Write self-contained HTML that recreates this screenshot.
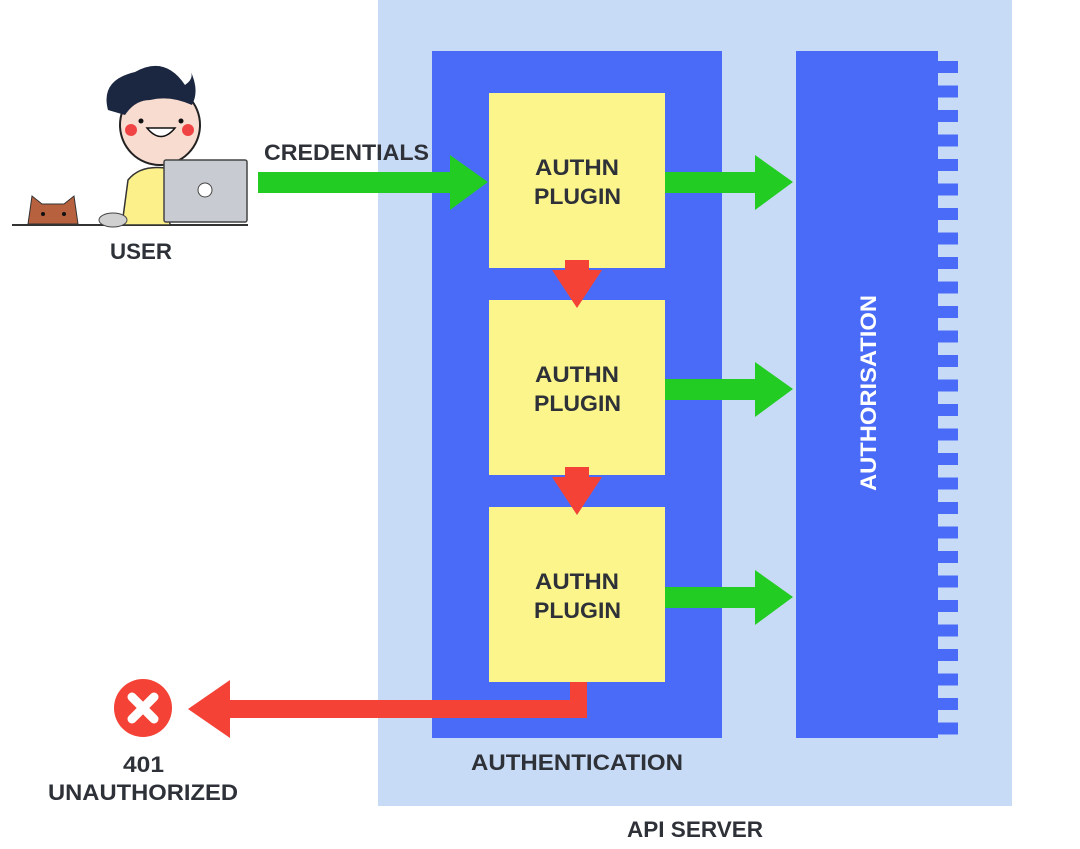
<!DOCTYPE html>
<html><head><style>
body{margin:0;width:1080px;height:844px;background:#fff;overflow:hidden;font-family:"Liberation Sans",sans-serif;}
svg text{font-family:"Liberation Sans",sans-serif;font-weight:bold;fill:#2e3238;}
</style></head><body>
<svg width="1080" height="844" viewBox="0 0 1080 844">
<rect x="378" y="0" width="634" height="806" fill="#c7dbf6"/>
<rect x="432" y="51" width="290" height="687" fill="#4a6bf8"/>
<rect x="796" y="51" width="142" height="687" fill="#4a6bf8"/>
<g id="teeth" fill="#4a6bf8"></g>
<g fill="#fbf58c">
<rect x="489" y="93" width="176" height="175"/>
<rect x="489" y="300" width="176" height="175"/>
<rect x="489" y="507" width="176" height="175"/>
</g>
<g font-size="22">
<text x="535" y="175" textLength="84" lengthAdjust="spacingAndGlyphs">AUTHN</text><text x="534" y="204" textLength="87" lengthAdjust="spacingAndGlyphs">PLUGIN</text>
<text x="535" y="382" textLength="84" lengthAdjust="spacingAndGlyphs">AUTHN</text><text x="534" y="411" textLength="87" lengthAdjust="spacingAndGlyphs">PLUGIN</text>
<text x="535" y="589" textLength="84" lengthAdjust="spacingAndGlyphs">AUTHN</text><text x="534" y="618" textLength="87" lengthAdjust="spacingAndGlyphs">PLUGIN</text>
</g>
<g fill="#22cc22">
<polygon points="258,172 450,172 450,155 488,182 450,210 450,193 258,193"/>
<polygon points="665,172 755,172 755,155 793,182 755,210 755,193 665,193"/>
<polygon points="665,379 755,379 755,362 793,389 755,417 755,400 665,400"/>
<polygon points="665,587 755,587 755,570 793,597 755,625 755,608 665,608"/>
</g>
<g fill="#f44336">
<polygon points="565,260 589,260 589,270 602,270 577,308 552,270 565,270"/>
<polygon points="565,467 589,467 589,477 602,477 577,515 552,477 565,477"/>
<polygon points="570,682 587,682 587,718 230,718 230,738 188,709 230,680 230,700 570,700"/>
<circle cx="143" cy="708" r="29"/>
</g>
<g stroke="#fff" stroke-width="9" stroke-linecap="round">
<line x1="132" y1="697" x2="154" y2="719"/><line x1="154" y1="697" x2="132" y2="719"/>
</g>
<g font-size="22" lengthAdjust="spacingAndGlyphs">
<text x="264" y="160" textLength="165" lengthAdjust="spacingAndGlyphs">CREDENTIALS</text>
<text x="110" y="259" textLength="62" lengthAdjust="spacingAndGlyphs">USER</text>
<text x="471" y="770" textLength="212" lengthAdjust="spacingAndGlyphs">AUTHENTICATION</text>
<text x="627" y="837" textLength="136" lengthAdjust="spacingAndGlyphs">API SERVER</text>
<text x="123" y="772" textLength="41" lengthAdjust="spacingAndGlyphs">401</text>
<text x="48" y="800" textLength="190" lengthAdjust="spacingAndGlyphs">UNAUTHORIZED</text>
</g>
<text x="-98" y="8" font-size="22" style="fill:#fff" textLength="196" lengthAdjust="spacingAndGlyphs" transform="translate(868,393) rotate(-90)">AUTHORISATION</text>
<line x1="12" y1="225" x2="248" y2="225" stroke="#333" stroke-width="2"/>
<path d="M122,225 L128,180 Q140,165 165,168 L170,225Z" fill="#fbf08a" stroke="#333" stroke-width="1.5"/>
<circle cx="160" cy="125" r="40" fill="#f9dcd0" stroke="#222" stroke-width="2"/>
<path d="M108,110 Q100,80 135,72 Q165,55 185,85 Q195,78 190,70 Q200,90 192,105 Q170,95 150,100 Q135,100 125,115Z" fill="#1b2640"/>
<circle cx="131" cy="130" r="6" fill="#f04444"/><circle cx="188" cy="130" r="6" fill="#f04444"/>
<circle cx="141" cy="121" r="2.5" fill="#111"/><circle cx="181" cy="121" r="2.5" fill="#111"/>
<path d="M147,128 Q161,145 175,128Z" fill="#fff" stroke="#111" stroke-width="1.5"/>
<rect x="164" y="160" width="83" height="62" rx="2" fill="#c8ccd2" stroke="#444" stroke-width="1.5"/>
<circle cx="205" cy="190" r="7" fill="#fff" stroke="#444"/>
<ellipse cx="113" cy="220" rx="14" ry="7" fill="#d0d0d0" stroke="#444"/>
<path d="M28,224 L32,196 L42,204 L64,204 L74,196 L78,224Z" fill="#b8613e" stroke="#333" stroke-width="1"/>
<circle cx="43" cy="214" r="2" fill="#111"/><circle cx="64" cy="214" r="2" fill="#111"/>
</svg>
<script>
var g=document.getElementById('teeth');
for(var y=61;y<730;y+=24.5){var r=document.createElementNS('http://www.w3.org/2000/svg','rect');r.setAttribute('x',937);r.setAttribute('y',y);r.setAttribute('width',21);r.setAttribute('height',12);g.appendChild(r);}
</script>
</body></html>
